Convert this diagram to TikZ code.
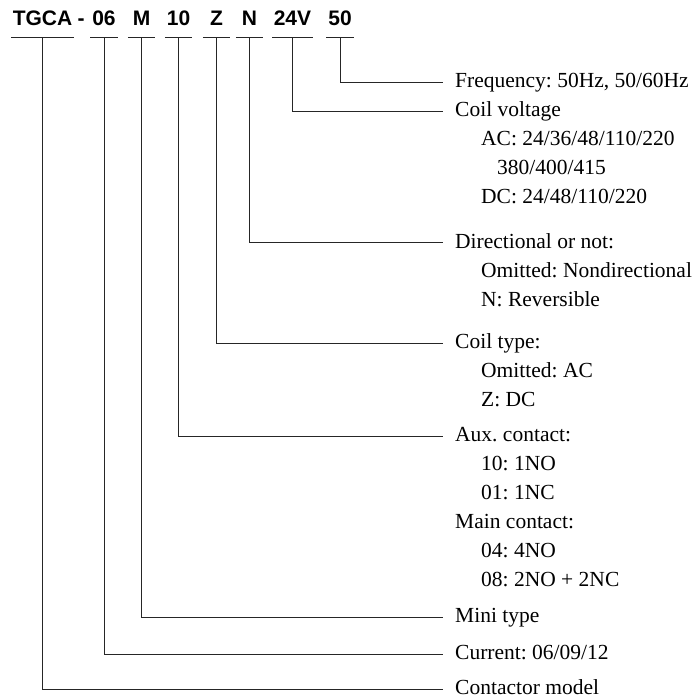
\documentclass[tikz,border=0pt]{standalone}
\usepackage{fontspec}
\setmainfont{Liberation Serif}
\newfontfamily\hdfont{Liberation Sans}
\frenchspacing
\tikzset{
	code/.style={font=\hdfont\bfseries\fontsize{21}{24}\selectfont, anchor=base, inner xsep=1.5pt, inner ysep=0pt, minimum width=27pt, text height=15pt, text depth=11pt},
	lbl/.style={font=\fontsize{21.5}{26}\selectfont, anchor=west, inner sep=0pt, text height=10pt, text depth=0pt},
	leader/.style={draw=black!85, line width=1pt},
}
\begin{document}
\begin{tikzpicture}[x=1pt,y=-1pt]
		\useasboundingbox (0,0) rectangle (694,700);

		% code parts
		\node[code] (model) at (42.5,26) {TGCA};
		\node[code, minimum width=0pt] (dash) at (81,26) {-};
		\node[code] (current) at (104,26) {06};
		\node[code] (mini) at (141.5,26) {M};
		\node[code] (aux) at (178.5,26) {10};
		\node[code] (coil) at (216.5,26) {Z};
		\node[code] (dir) at (249.5,26) {N};
		\node[code] (volt) at (292.5,26) {24V};
		\node[code] (freq) at (340,26) {50};

		% descriptions
		\node[lbl] (freqtxt) at (455,83) {Frequency: 50Hz, 50/60Hz};
		\node[lbl] (volttxt) at (455,112) {Coil voltage};
		\node[lbl] (voltac) at (481,141) {AC: 24/36/48/110/220};
		\node[lbl] (voltac2) at (497,170) {380/400/415};
		\node[lbl] (voltdc) at (481,199) {DC: 24/48/110/220};
		\node[lbl] (dirtxt) at (455,243) {Directional or not:};
		\node[lbl] (dirno) at (481,272) {Omitted: Nondirectional};
		\node[lbl] (dirrev) at (481,301) {N: Reversible};
		\node[lbl] (coiltxt) at (455,343) {Coil type:};
		\node[lbl] (coilac) at (481,372) {Omitted: AC};
		\node[lbl] (coildc) at (481,401) {Z: DC};
		\node[lbl] (auxtxt) at (455,436) {Aux. contact:};
		\node[lbl] (auxno) at (481,465) {10: 1NO};
		\node[lbl] (auxnc) at (481,494) {01: 1NC};
		\node[lbl] (maintxt) at (455,523) {Main contact:};
		\node[lbl] (mainno) at (481,552) {04: 4NO};
		\node[lbl] (mainnc) at (481,581) {08: 2NO + 2NC};
		\node[lbl] (minitxt) at (455,617) {Mini type};
		\node[lbl] (currenttxt) at (455,654) {Current: 06/09/12};
		\node[lbl] (modeltxt) at (455,689) {Contactor model};

		% underlines and leaders
		\foreach \part/\txt in {model/modeltxt, current/currenttxt, mini/minitxt, aux/auxtxt, coil/coiltxt, dir/dirtxt, volt/volttxt, freq/freqtxt}{
			\draw[leader] (\part.south west) -- (\part.south east);
			\draw[leader] (\part.south) |- ([xshift=-12pt]\txt.west);
		}
	\end{tikzpicture}
\end{document}
